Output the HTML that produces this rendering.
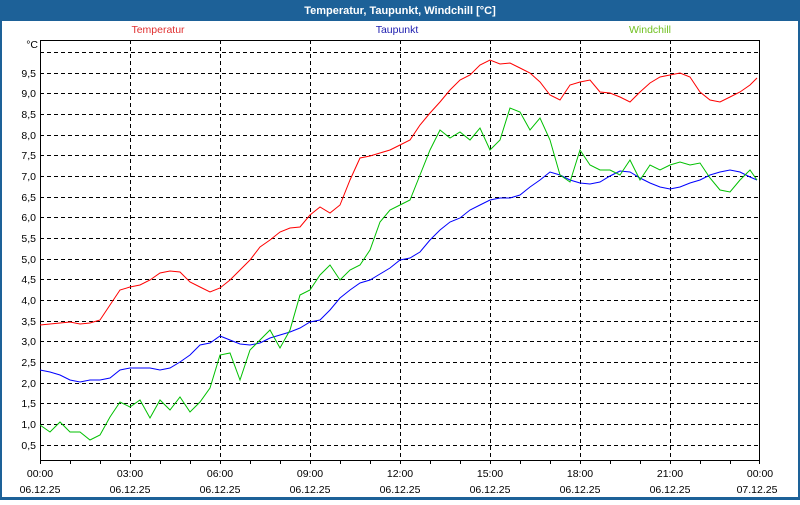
<!DOCTYPE html><html><head><style>body{margin:0;width:800px;height:500px;overflow:hidden;background:#fff;font-family:"Liberation Sans",sans-serif}</style></head><body>
<svg width="800" height="500" xmlns="http://www.w3.org/2000/svg" font-family="Liberation Sans, sans-serif" font-size="10.5">
<rect x="0" y="0" width="800" height="500" fill="#1d6198"/>
<rect x="2" y="21" width="796" height="476" fill="#fff"/>
<text x="400" y="14" fill="#fff" font-weight="bold" font-size="11" text-anchor="middle">Temperatur, Taupunkt, Windchill [°C]</text>
<text x="158" y="33" fill="#e03030" text-anchor="middle">Temperatur</text>
<text x="397" y="33" fill="#2020b0" text-anchor="middle">Taupunkt</text>
<text x="650" y="33" fill="#70c020" text-anchor="middle">Windchill</text>
<text x="38" y="48" text-anchor="end">°C</text>
<g stroke="#000" stroke-dasharray="4,3" stroke-width="1">
<line x1="40" y1="52.5" x2="760" y2="52.5"/>
<line x1="40" y1="73.5" x2="760" y2="73.5"/><line x1="40" y1="93.5" x2="760" y2="93.5"/><line x1="40" y1="114.5" x2="760" y2="114.5"/><line x1="40" y1="135.5" x2="760" y2="135.5"/><line x1="40" y1="155.5" x2="760" y2="155.5"/><line x1="40" y1="176.5" x2="760" y2="176.5"/><line x1="40" y1="197.5" x2="760" y2="197.5"/><line x1="40" y1="217.5" x2="760" y2="217.5"/><line x1="40" y1="238.5" x2="760" y2="238.5"/><line x1="40" y1="259.5" x2="760" y2="259.5"/><line x1="40" y1="279.5" x2="760" y2="279.5"/><line x1="40" y1="300.5" x2="760" y2="300.5"/><line x1="40" y1="321.5" x2="760" y2="321.5"/><line x1="40" y1="341.5" x2="760" y2="341.5"/><line x1="40" y1="362.5" x2="760" y2="362.5"/><line x1="40" y1="383.5" x2="760" y2="383.5"/><line x1="40" y1="403.5" x2="760" y2="403.5"/><line x1="40" y1="424.5" x2="760" y2="424.5"/><line x1="40" y1="445.5" x2="760" y2="445.5"/>
<line x1="130.5" y1="40" x2="130.5" y2="460"/><line x1="220.5" y1="40" x2="220.5" y2="460"/><line x1="310.5" y1="40" x2="310.5" y2="460"/><line x1="400.5" y1="40" x2="400.5" y2="460"/><line x1="490.5" y1="40" x2="490.5" y2="460"/><line x1="580.5" y1="40" x2="580.5" y2="460"/><line x1="670.5" y1="40" x2="670.5" y2="460"/>
</g>
<g text-anchor="end">
<text x="36" y="77">9,5</text><text x="36" y="97">9,0</text><text x="36" y="118">8,5</text><text x="36" y="139">8,0</text><text x="36" y="159">7,5</text><text x="36" y="180">7,0</text><text x="36" y="201">6,5</text><text x="36" y="221">6,0</text><text x="36" y="242">5,5</text><text x="36" y="263">5,0</text><text x="36" y="283">4,5</text><text x="36" y="304">4,0</text><text x="36" y="325">3,5</text><text x="36" y="345">3,0</text><text x="36" y="366">2,5</text><text x="36" y="387">2,0</text><text x="36" y="407">1,5</text><text x="36" y="428">1,0</text><text x="36" y="449">0,5</text>
</g>
<rect x="40.5" y="40.5" width="719" height="420" fill="none" stroke="#000"/>
<g stroke="#000"><path d="M70.5 460v4M100.5 460v4M130.5 460v4M160.5 460v4M190.5 460v4M220.5 460v4M250.5 460v4M280.5 460v4M310.5 460v4M340.5 460v4M370.5 460v4M400.5 460v4M430.5 460v4M460.5 460v4M490.5 460v4M520.5 460v4M550.5 460v4M580.5 460v4M610.5 460v4M640.5 460v4M670.5 460v4M700.5 460v4M730.5 460v4M759.5 460v4M40.5 460v4"/></g>
<g text-anchor="middle">
<text x="40" y="477">00:00</text><text x="130" y="477">03:00</text><text x="220" y="477">06:00</text><text x="310" y="477">09:00</text><text x="400" y="477">12:00</text><text x="490" y="477">15:00</text><text x="580" y="477">18:00</text><text x="670" y="477">21:00</text><text x="760" y="477">00:00</text>
<text x="40" y="493">06.12.25</text><text x="130" y="493">06.12.25</text><text x="220" y="493">06.12.25</text><text x="310" y="493">06.12.25</text><text x="400" y="493">06.12.25</text><text x="490" y="493">06.12.25</text><text x="580" y="493">06.12.25</text><text x="670" y="493">06.12.25</text><text x="757" y="493">07.12.25</text>
</g>
<g fill="none" stroke-width="1">
<polyline stroke="#ff0000" points="40,325 60,323 70,322 80,324 90,323 100,320 110,305 120,290 130,287 140,285 150,280 160,273 170,271 180,272 190,282 200,287 210,292 220,288 230,280 240,270 250,260 260,247 270,240 280,232 290,228 300,227 310,215 320,207 330,213 340,205 350,180 360,158 370,156 380,153 390,150 400,145 410,140 420,125 430,113 440,102 450,90 460,80 470,75 480,65 490,60 500,64 510,63 520,68 530,73 540,82 550,95 560,100 570,85 580,82 590,80 600,92 610,93 620,97 630,102 640,92 650,83 660,77 670,75 680,73 690,77 700,92 710,100 720,102 730,97 740,92 750,85 757,78"/>
<polyline stroke="#0000ff" points="40,370 50,372 60,375 70,380 80,382 90,380 100,380 110,378 120,370 130,368 140,368 150,368 160,370 170,368 180,362 190,355 200,345 210,343 220,336 230,340 240,344 250,345 260,343 270,338 280,335 290,332 300,328 310,322 320,320 330,310 340,298 350,290 360,283 370,280 380,274 390,268 400,260 410,258 420,252 430,240 440,230 450,222 460,218 470,210 480,205 490,200 500,198 510,198 520,195 530,187 540,180 550,172 560,175 570,180 580,183 590,184 600,182 610,176 620,171 630,172 640,178 650,183 660,187 670,189 680,187 690,183 700,180 710,175 720,172 730,170 740,172 750,177 757,180"/>
<polyline stroke="#00c000" points="40,425 50,432 60,422 70,432 80,432 90,440 100,435 110,417 120,402 130,407 140,400 150,418 160,400 170,410 180,397 190,412 200,402 210,388 220,355 230,353 240,380 250,350 260,340 270,330 280,348 290,330 300,295 310,290 320,275 330,265 340,280 350,270 360,265 370,250 380,222 390,210 400,205 410,200 420,175 430,150 440,130 450,138 460,132 470,140 480,128 490,150 500,140 510,108 520,112 530,130 540,118 550,140 560,175 570,182 580,150 590,165 600,170 610,170 620,175 630,160 640,180 650,165 660,170 670,165 680,162 690,165 700,163 710,178 720,190 730,192 740,180 750,170 757,180"/>
</g>
</svg></body></html>
